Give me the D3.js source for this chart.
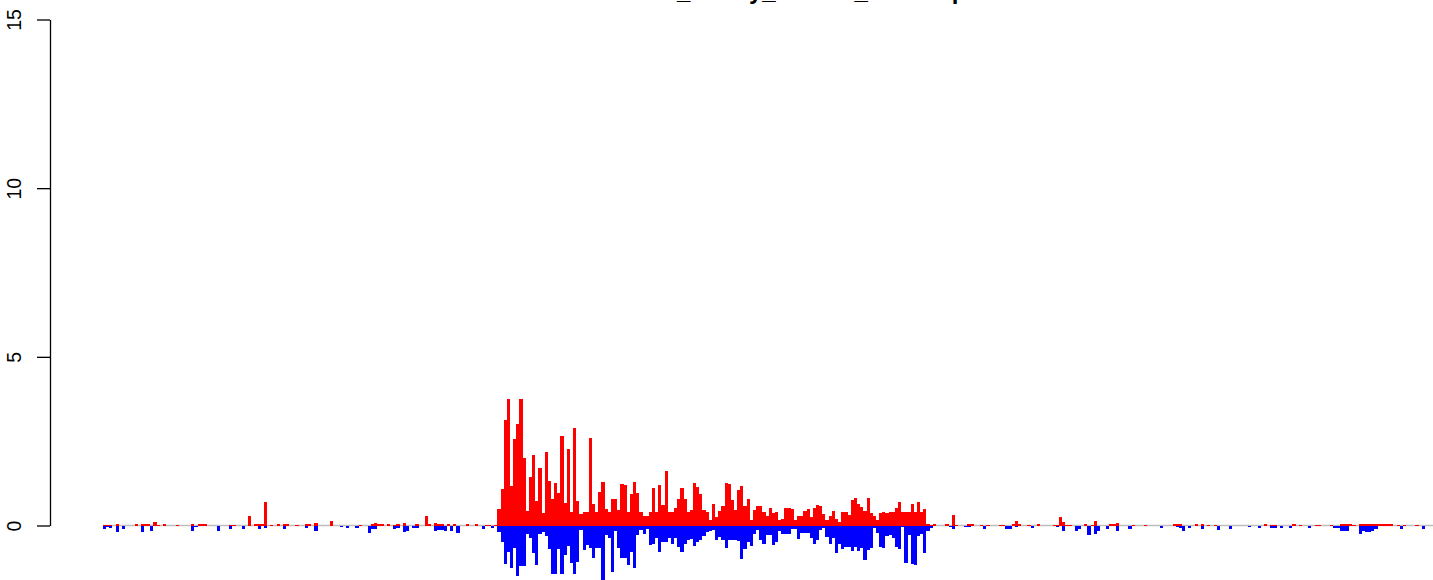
<!DOCTYPE html>
<html><head><meta charset="utf-8">
<script src="https://cdn.jsdelivr.net/npm/d3@7"></script>
<style>body{margin:0;background:#fff}svg{display:block;background:#fff}</style>
</head><body><svg id="c" width="1433" height="580"></svg>
<script>
const titleText = "H3K27ac_binary_counts_heatmap";
const yTicks = [0, 5, 10, 15];
const yTickLabels = ["0", "5", "10", "15"];

const redValues = [
0.02,0.02,0.01,0,0.03,0,0,0,0,0,
0.03,0,0.03,0.03,0.03,0,0.09,0.02,0,0.03,
0,0,0,0.02,0,0,0,0,0.03,0,
0.03,0.03,0.03,0,0,0,0,0,0,0,
0.02,0.02,0,0,0,0,0.27,0,0.03,0.03,
0.03,0.71,0,0.02,0,0.03,0,0.03,0.03,0,
0,0.02,0,0,0.03,0.03,0,0.06,0,0,
0,0,0.12,0,0,0,0,0,0,0,
0,0.01,0,0,0,0.03,0.06,0.03,0.03,0,
0.03,0,0.01,0.03,0,0.06,0,0,0,0.03,
0,0,0.27,0.03,0,0.06,0.03,0.03,0,0.03,
0,0.03,0,0,0,0.03,0,0,0.03,0,
0,0.01,0.01,0,0.01,
0.50,1.08,3.14,3.74,1.16,2.55,3.02,3.74,1.99,0.44,
1.45,2.08,0.74,1.69,0.36,2.19,1.33,0.80,1.25,0.95,
2.64,0.68,2.28,0.41,2.88,0.74,0.33,0.41,0.39,2.58,
0.65,0.39,0.98,1.30,0.50,0.41,0.80,0.80,0.47,1.22,
1.19,0.39,0.92,1.30,0.95,
0.41,0.27,0.27,0.41,1.10,0.39,1.19,0.62,1.63,0.39,
0.41,0.53,0.80,1.10,0.80,0.41,0.47,1.25,1.13,0.92,
0.47,0.39,0.15,0.65,0.24,0.44,0.59,1.27,1.22,0.77,
0.47,1.04,1.16,0.59,0.80,0.15,0.47,0.59,0.59,0.41,
0.27,0.53,0.36,0.41,0.15,0.18,0.53,0.53,
0.50,0.15,0.27,0.27,0.44,0.50,0.24,0.53,0.62,0.59,
0.33,0.15,0.27,0.44,0.18,0.09,0.39,0.39,0.30,0.77,
0.83,0.65,0.56,0.44,0.83,0.36,0.27,0.15,0.36,0.41,
0.36,0.39,0.41,0.53,0.71,0.39,0.41,0.41,0.65,0.41,
0.71,0.41,0.50,
0.03,0.02,0.03,0,0,0,0.03,0,0.3,
0.01,0,0,0,0.03,0.03,0,0,0.01,0,
0.01,0,0,0,0.01,0.01,0,0,0.03,0.12,
0.03,0,0,0.01,0,0,0.03,0,0,0,
0,0.01,0.01,0.24,0.09,0.01,0.01,0,0,0,
0,0.03,0,0.01,0.12,0,0,0,0,0.03,
0.03,0.06,0,0,0,0,0.01,0,0,0,
0.01,0,0,0,0,0,0,0,0,0.03,
0.03,0.03,0,0,0,0,0.03,0,0.03,0,
0.01,0,0.01,0,0,0,0,0,0,0,
0,0,0,0,0,0,0,0,0.03,0,
0.01,0.01,0,0,0,0,0,0.03,0,0.01,
0,0,0,0,0.01,0.01,0,0,0,0.01,
0,0,0.03,0.03,0.03,0.03,0.01,0,0.03,0.03,
0.03,0.03,0.03,0.03,0.03,0.03,0.03,0.03,0.03,0,
0.01,0,0.01,0,0,0,0.01,0,0,0,
0,0
];

const blueValues = [
0.1,0.03,0.06,0.02,0.18,0.02,0.1,0.01,0.01,0.01,
0.01,0.01,0.2,0.01,0.01,0.15,0,0,0,0,
0.02,0.02,0.02,0,0,0,0,0,0.15,0.03,
0,0,0,0,0,0,0.15,0,0,0,
0.09,0.01,0.01,0.01,0.11,0,0,0,0,0.11,
0,0.08,0.01,0.01,0.01,0.01,0.01,0.11,0.01,0.01,
0.01,0.01,0.01,0.01,0.08,0.01,0,0.17,0.01,0.01,
0.01,0.01,0.01,0.01,0.01,0.05,0.01,0.08,0,0,
0.08,0.01,0.01,0.01,0.23,0.11,0.11,0.01,0.01,0.01,
0.01,0.01,0.11,0.08,0,0.2,0.17,0,0.08,0.08,
0.01,0.01,0.01,0.01,0.01,0.17,0.14,0.14,0.17,0,
0.17,0,0.23,0.01,0.01,0.01,0.01,0.01,0.01,0.01,
0.1,0.01,0.01,0.06,0.02,
0.18,0.50,1.13,0.80,1.25,0.68,1.51,1.19,1.19,0.24,
0.36,0.83,1.16,0.24,0.18,0.30,0.71,1.45,1.45,0.71,
1.45,0.86,0.62,1.10,1.45,1.07,0.12,0.74,0.59,0.68,
0.95,0.68,0.68,1.65,0.27,0.36,1.39,0.15,0.68,0.95,
0.95,1.16,0.80,1.25,0.27,
0.12,0.24,0.09,0.59,0.56,0.36,0.80,0.50,0.50,0.36,
0.56,0.36,0.65,0.80,0.56,0.42,0.39,0.62,0.50,0.44,
0.30,0.18,0.15,0.12,0.42,0.33,0.44,0.68,0.44,0.42,
0.44,0.47,0.98,0.71,0.50,0.62,0.24,0.12,0.42,0.56,
0.27,0.27,0.59,0.50,0.15,0.24,0.24,0.24,
0.09,0.09,0.39,0.21,0.21,0.21,0.36,0.56,0.42,0.12,
0.06,0.33,0.56,0.36,0.83,0.56,0.71,0.65,0.65,0.77,
0.65,0.77,0.68,1.01,0.74,0.68,0.06,0.21,0.65,0.68,
0.30,0.27,0.36,0.65,0.71,0.03,1.10,0.27,1.13,1.16,
0.30,0.24,0.83,
0.15,0.06,0.02,0.01,0.01,0.01,0.01,0.03,0.09,
0.01,0.01,0.01,0.03,0.03,0.01,0.01,0.01,0.01,0.11,
0.01,0.01,0.01,0.01,0.01,0.01,0.09,0.09,0.01,0.03,
0.01,0.01,0.01,0.01,0.08,0.01,0.01,0.01,0.01,0.01,
0.01,0.01,0.03,0.01,0.15,0.01,0.01,0.01,0.15,0.11,
0.01,0.01,0.27,0.01,0.24,0.15,0.01,0.01,0.09,0.01,
0.01,0.17,0.01,0.01,0.01,0.11,0.01,0.01,0.01,0.01,
0.01,0.01,0.01,0.01,0.01,0.08,0.02,0.02,0.02,0.02,
0.03,0.08,0.17,0.02,0.08,0.02,0.02,0.02,0.11,0.02,
0.02,0.02,0.02,0.14,0.02,0.02,0.02,0.11,0.02,0.02,
0.02,0.02,0.02,0.05,0.02,0.02,0.08,0.02,0.02,0.02,
0.08,0.08,0.02,0.08,0.02,0.02,0.08,0.02,0.02,0.02,
0.02,0.02,0.08,0.02,0.02,0.02,0.02,0.02,0.02,0.02,
0.08,0.08,0.17,0.17,0.17,0.02,0.02,0.02,0.24,0.15,
0.18,0.18,0.15,0.09,0.02,0.02,0.02,0.02,0.02,0.02,
0.02,0.09,0.02,0.02,0.02,0.02,0.02,0.02,0.09,0.02,
0.02,0.02
];

const N = Math.min(redValues.length, blueValues.length);
const svg = d3.select("#c");
const font = "'Liberation Sans', Arial, Helvetica, sans-serif";

const x = d3.scaleBand().domain(d3.range(N)).range([103, 103 + N * 3.155]).paddingInner(0).paddingOuter(0);
const y = d3.scaleLinear().domain([0, 15]).range([525.5, 19.5]);

// baseline
svg.append("line")
  .attr("x1", 103).attr("x2", 1433)
  .attr("y1", y(0)).attr("y2", y(0))
  .attr("stroke", "#bebebe").attr("stroke-width", 1.6);

const idx = d3.range(N);
svg.append("g").attr("shape-rendering", "crispEdges")
  .selectAll("rect").data(idx.filter(i => blueValues[i] > 0)).join("rect")
  .attr("x", i => x(i)).attr("width", x.bandwidth())
  .attr("y", y(0)).attr("height", i => y(-blueValues[i]) - y(0))
  .attr("fill", "#0000ff");

svg.append("g").attr("shape-rendering", "crispEdges")
  .selectAll("rect").data(idx.filter(i => redValues[i] > 0)).join("rect")
  .attr("x", i => x(i)).attr("width", x.bandwidth())
  .attr("y", i => y(redValues[i])).attr("height", i => y(0) - y(redValues[i]))
  .attr("fill", "#ff0000");

// y axis
const axis = d3.axisLeft(y).tickValues(yTicks).tickSize(13).tickSizeOuter(0)
  .tickFormat((d, i) => yTickLabels[i]);
const ag = svg.append("g").attr("transform", "translate(50,0)").call(axis);
ag.select(".domain").attr("stroke", "#000").attr("stroke-width", 1.3);
ag.selectAll(".tick line").attr("stroke", "#000").attr("stroke-width", 1.3);
ag.selectAll(".tick text")
  .attr("x", 0).attr("dy", 0)
  .attr("text-anchor", "middle")
  .attr("transform", "translate(-29.5,0) rotate(-90)")
  .attr("fill", "#000")
  .style("font-family", font).style("font-size", "19.5px");

// title (mostly above the visible area)
svg.append("text")
  .attr("x", 575.6).attr("y", -1)
  .attr("text-anchor", "start")
  .style("font-family", font).style("font-size", "24px").style("font-weight", "bold")
  .attr("fill", "#000")
  .text(titleText);
</script>
</body></html>
